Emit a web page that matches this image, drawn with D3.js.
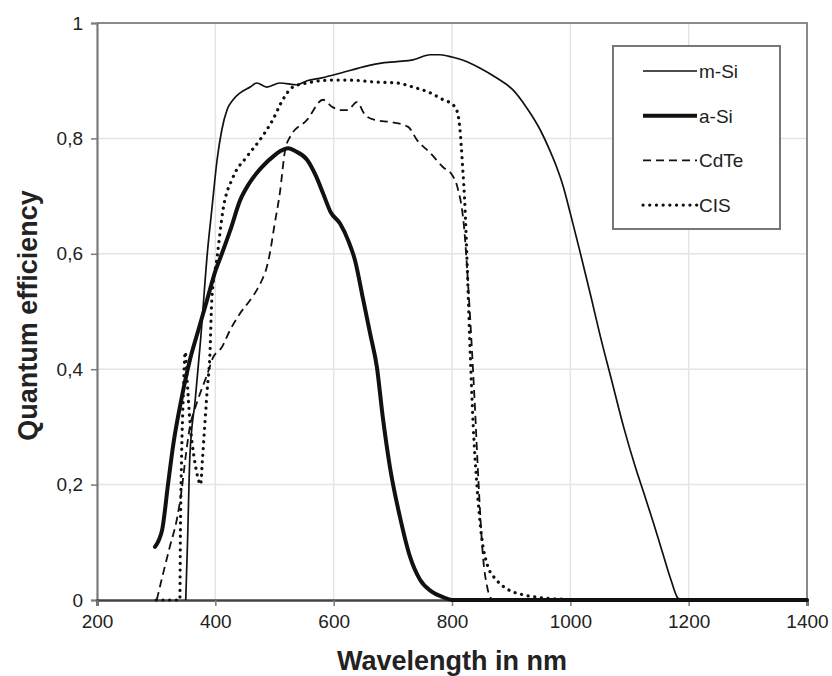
<!DOCTYPE html>
<html>
<head>
<meta charset="utf-8">
<script src="https://cdn.jsdelivr.net/npm/d3@7"></script>
<style>
  body { margin: 0; background: #fff; }
  svg { display: block; font-family: "Liberation Sans", Arial, sans-serif; }
</style>
</head>
<body>
<div id="chart"></div>
<script>
// wavelength (nm) and quantum efficiency per cell type
var mSiNm = [350, 353, 357, 366, 375, 387, 394, 403, 411, 420, 430, 442, 459, 470, 487, 509, 538, 555, 580, 611, 650, 678, 707, 734, 763, 780, 800, 820, 847, 875, 903, 925, 949, 965, 977, 987, 1000, 1016, 1035, 1050, 1070, 1090, 1110, 1126, 1140, 1155, 1170, 1182, 1190, 1400];
var mSiQe = [0, 0.1, 0.25, 0.347, 0.45, 0.607, 0.676, 0.763, 0.815, 0.85, 0.867, 0.879, 0.889, 0.896, 0.889, 0.896, 0.893, 0.9, 0.905, 0.913, 0.924, 0.93, 0.933, 0.936, 0.945, 0.945, 0.941, 0.935, 0.922, 0.905, 0.884, 0.855, 0.815, 0.78, 0.75, 0.72, 0.67, 0.605, 0.525, 0.46, 0.38, 0.3, 0.23, 0.18, 0.135, 0.085, 0.035, 0.003, 0, 0];

var aSiNm = [298, 305, 310, 320, 329, 343, 357, 372, 386, 400, 411, 425, 442, 456, 470, 485, 497, 510, 523, 535, 555, 570, 582, 595, 611, 625, 636, 650, 662, 673, 683, 695, 712, 729, 746, 765, 785, 800, 1400];
var aSiQe = [0.092, 0.105, 0.121, 0.2, 0.27, 0.35, 0.416, 0.47, 0.52, 0.57, 0.6, 0.64, 0.693, 0.72, 0.74, 0.757, 0.768, 0.778, 0.783, 0.778, 0.763, 0.735, 0.705, 0.672, 0.652, 0.622, 0.589, 0.52, 0.46, 0.404, 0.317, 0.231, 0.144, 0.075, 0.035, 0.015, 0.005, 0, 0];

var cdTeNm = [301, 312, 323, 335, 343, 350, 357, 365, 375, 386, 396, 411, 425, 442, 459, 470, 479, 487, 492, 500, 509, 518, 526, 555, 582, 597, 611, 624, 639, 653, 670, 698, 726, 741, 763, 785, 800, 809, 820, 830, 838, 845, 852, 860, 868];
var cdTeQe = [0, 0.047, 0.092, 0.14, 0.19, 0.25, 0.3, 0.33, 0.36, 0.39, 0.42, 0.438, 0.468, 0.497, 0.52, 0.537, 0.555, 0.577, 0.6, 0.65, 0.705, 0.78, 0.802, 0.832, 0.867, 0.855, 0.849, 0.849, 0.863, 0.841, 0.832, 0.828, 0.82, 0.797, 0.775, 0.75, 0.737, 0.716, 0.65, 0.5, 0.35, 0.2, 0.08, 0.02, 0];

var cisNm = [300, 320, 340, 341, 343, 346, 349, 353, 357, 361, 366, 371, 375, 378, 382, 386, 391, 394, 403, 413, 430, 453, 475, 497, 514, 531, 555, 594, 628, 666, 707, 734, 763, 785, 802, 808, 813, 818, 822, 825, 830, 836, 842, 850, 860, 875, 895, 920, 950, 990, 1000, 1400];
var cisQe = [0, 0, 0, 0.12, 0.25, 0.36, 0.43, 0.37, 0.31, 0.27, 0.235, 0.21, 0.2, 0.24, 0.3, 0.36, 0.43, 0.52, 0.594, 0.676, 0.733, 0.768, 0.797, 0.832, 0.867, 0.889, 0.896, 0.901, 0.901, 0.898, 0.896, 0.889, 0.879, 0.867, 0.858, 0.849, 0.82, 0.75, 0.68, 0.6, 0.45, 0.3, 0.2, 0.11, 0.06, 0.035, 0.018, 0.009, 0.004, 0.001, 0, 0];

var seriesNames = ["m-Si", "a-Si", "CdTe", "CIS"];
var xTicks = [200, 400, 600, 800, 1000, 1200, 1400];
var yTicks = [0, 0.2, 0.4, 0.6, 0.8, 1];

var width = 832, height = 676;
var margins = { top: 23, right: 25, bottom: 76, left: 97 };
var chartWidth = width - margins.left - margins.right;
var chartHeight = height - margins.top - margins.bottom;

var styles = {
  "m-Si": { width: 1.7, dash: null, cap: "butt" },
  "a-Si": { width: 4, dash: null, cap: "round" },
  "CdTe": { width: 1.8, dash: "8,5", cap: "butt" },
  "CIS":  { width: 3.2, dash: "0.1,6.6", cap: "round" }
};

var series = [
  { name: seriesNames[0], nm: mSiNm, qe: mSiQe },
  { name: seriesNames[1], nm: aSiNm, qe: aSiQe },
  { name: seriesNames[2], nm: cdTeNm, qe: cdTeQe },
  { name: seriesNames[3], nm: cisNm, qe: cisQe }
];

var xScale = d3.scaleLinear().domain([200, 1400]).range([0, chartWidth]);
var yScale = d3.scaleLinear().domain([0, 1]).range([chartHeight, 0]);

var svg = d3.select("#chart").append("svg")
  .attr("width", width)
  .attr("height", height);

var g = svg.append("g")
  .attr("transform", "translate(" + margins.left + "," + margins.top + ")");

// grid
g.append("g")
  .attr("class", "grid-x")
  .selectAll("line")
  .data(xTicks.slice(1, -1))
  .join("line")
  .attr("x1", d => xScale(d)).attr("x2", d => xScale(d))
  .attr("y1", 0).attr("y2", chartHeight)
  .style("stroke", "#e4e4e4").style("stroke-width", 1.5);

g.append("g")
  .attr("class", "grid-y")
  .selectAll("line")
  .data(yTicks.slice(1, -1))
  .join("line")
  .attr("x1", 0).attr("x2", chartWidth)
  .attr("y1", d => yScale(d)).attr("y2", d => yScale(d))
  .style("stroke", "#e4e4e4").style("stroke-width", 1.5);

// frame top + right
g.append("path")
  .attr("d", "M0,0H" + chartWidth + "V" + chartHeight)
  .style("fill", "none")
  .style("stroke", "#8a8a8a")
  .style("stroke-width", 2);

var fmt = d => String(d).replace(".", ",");

var yAxis = g.append("g")
  .call(d3.axisLeft(yScale).tickValues(yTicks).tickFormat(fmt).tickSize(6).tickPadding(8));
yAxis.select(".domain").style("stroke", "#7a7a7a").style("stroke-width", 2.2);
yAxis.selectAll(".tick line").style("stroke", "#7a7a7a").style("stroke-width", 1.5);
yAxis.selectAll("text").style("font-size", "19px").style("fill", "#222");

var xAxis = g.append("g")
  .attr("transform", "translate(0," + chartHeight + ")")
  .call(d3.axisBottom(xScale).tickValues(xTicks).tickFormat(d => String(d)).tickSize(6).tickPadding(9));
xAxis.select(".domain").style("stroke", "#444").style("stroke-width", 2.5);
xAxis.selectAll(".tick line").style("stroke", "#7a7a7a").style("stroke-width", 1.5);
xAxis.selectAll("text").style("font-size", "19px").style("fill", "#222");

// curves
var line = d3.line()
  .x(d => xScale(d[0]))
  .y(d => yScale(d[1]))
  .curve(d3.curveMonotoneX);

g.selectAll(".curve")
  .data(series)
  .join("path")
  .attr("class", "curve")
  .attr("d", d => line(d.nm.map((v, i) => [v, d.qe[i]])))
  .style("fill", "none")
  .style("stroke", "#111")
  .style("stroke-width", d => styles[d.name].width)
  .style("stroke-dasharray", d => styles[d.name].dash)
  .style("stroke-linecap", d => styles[d.name].cap)
  .style("stroke-linejoin", "round");

// legend
var legend = svg.append("g").attr("class", "legend");
legend.append("rect")
  .attr("x", 613).attr("y", 46)
  .attr("width", 167).attr("height", 183)
  .style("fill", "#fff")
  .style("stroke", "#777")
  .style("stroke-width", 2);

var legendItems = legend.selectAll(".legend-item")
  .data(seriesNames)
  .join("g")
  .attr("class", "legend-item")
  .attr("transform", (d, i) => "translate(643," + (71 + i * 44.7) + ")");

legendItems.append("line")
  .attr("x1", 0).attr("x2", 54)
  .style("stroke", "#111")
  .style("stroke-width", d => styles[d].width)
  .style("stroke-dasharray", d => styles[d].dash)
  .style("stroke-linecap", d => d == "CIS" ? "round" : "butt");

legendItems.append("text")
  .attr("x", 56)
  .attr("y", 7)
  .style("font-size", "19px")
  .style("fill", "#222")
  .text(d => d);

// axis titles
svg.append("text")
  .attr("transform", "translate(37," + (margins.top + chartHeight / 2 + 4) + ") rotate(-90)")
  .style("text-anchor", "middle")
  .style("font-size", "27px")
  .style("font-weight", "bold")
  .style("fill", "#222")
  .text("Quantum efficiency");

svg.append("text")
  .attr("x", margins.left + chartWidth / 2)
  .attr("y", 670)
  .style("text-anchor", "middle")
  .style("font-size", "27px")
  .style("font-weight", "bold")
  .style("fill", "#222")
  .text("Wavelength in nm");
</script>
</body>
</html>
